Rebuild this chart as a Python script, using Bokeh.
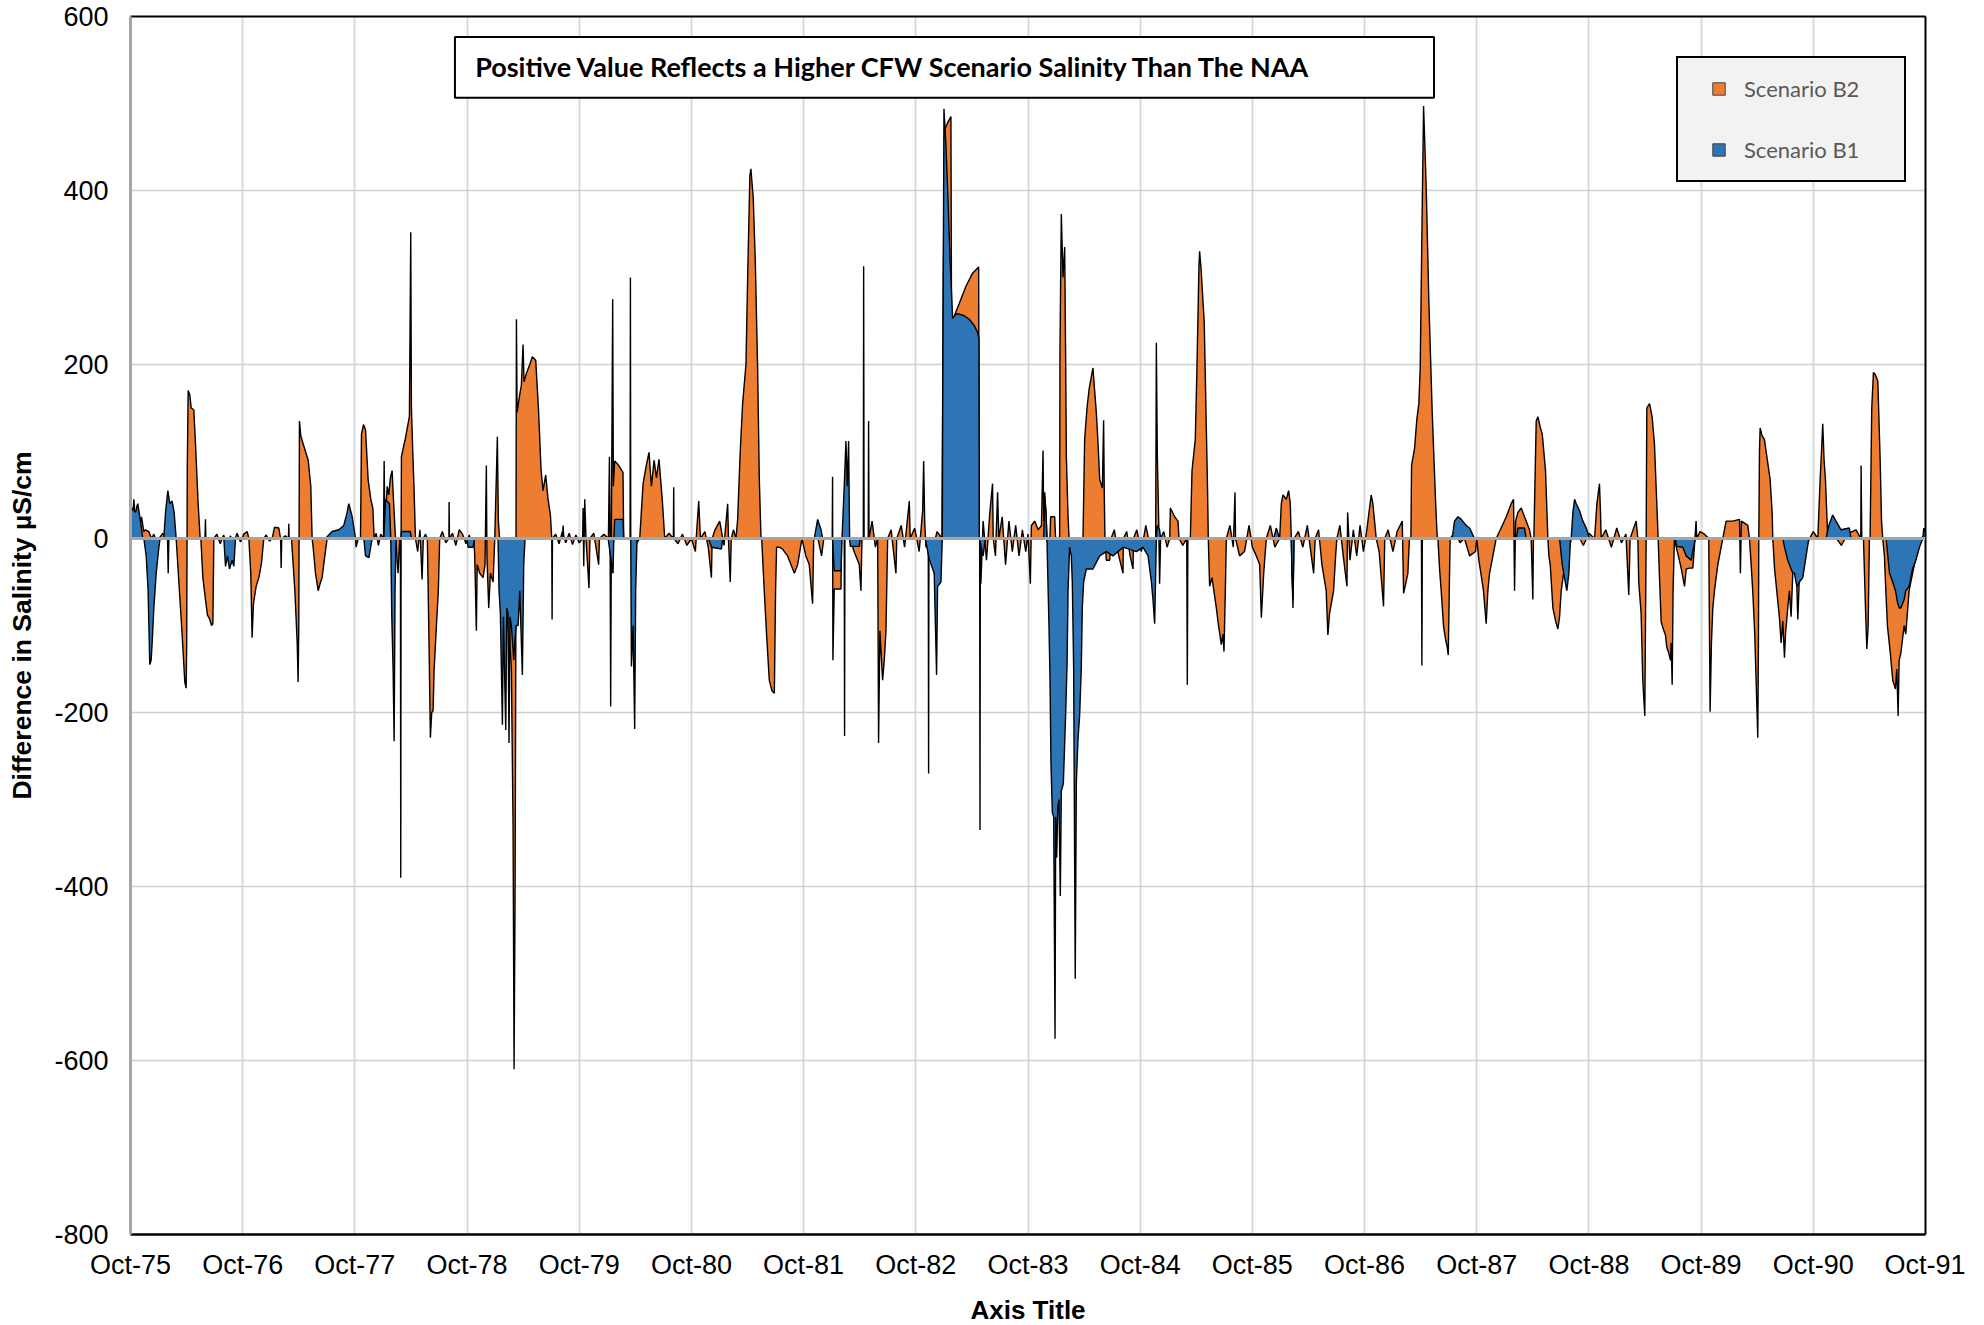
from bokeh.plotting import figure
from bokeh.models import (Range1d, FixedTicker, Span, BoxAnnotation, Label,
                          Legend, LegendItem, LinearAxis)
from bokeh.embed import file_html
from bokeh.resources import INLINE

# ---------------- data ----------------
X_TICKS = [1975.75 + i for i in range(17)]
X_TICK_LABELS = ["Oct-75", "Oct-76", "Oct-77", "Oct-78", "Oct-79", "Oct-80",
                 "Oct-81", "Oct-82", "Oct-83", "Oct-84", "Oct-85", "Oct-86",
                 "Oct-87", "Oct-88", "Oct-89", "Oct-90", "Oct-91"]
Y_TICKS = [-800, -600, -400, -200, 0, 200, 400, 600]
Y_TICK_LABELS = ["-800", "-600", "-400", "-200", "0", "200", "400", "600"]

SERIES_NAMES = ["Scenario B2", "Scenario B1"]

# (decimal year, difference in salinity uS/cm)
B2_POINTS = [
    (1975.750, 40), (1975.765, 15), (1975.780, 45), (1975.795, 20), (1975.809, 38),
    (1975.830, 12), (1975.848, 25), (1975.869, 8), (1975.884, 10), (1975.913, 8),
    (1975.937, 0), (1975.958, 5), (1975.985, -5), (1976.003, 0), (1976.040, 6),
    (1976.070, 0), (1976.080, 0), (1976.086, -40), (1976.092, 0), (1976.121, 10),
    (1976.140, 3), (1976.157, 0), (1976.181, -50), (1976.210, -110), (1976.234, -165),
    (1976.246, -172), (1976.251, -120), (1976.256, 80), (1976.264, 170), (1976.279, 165),
    (1976.291, 150), (1976.314, 148), (1976.329, 110), (1976.353, 40), (1976.371, 0),
    (1976.377, 0), (1976.395, -45), (1976.418, -70), (1976.436, -88), (1976.454, -92),
    (1976.472, -100), (1976.484, -98), (1976.493, 0), (1976.520, 5), (1976.550, -6),
    (1976.580, 4), (1976.610, -8), (1976.640, 3), (1976.670, -5), (1976.700, 6),
    (1976.730, -4), (1976.760, 5), (1976.790, 8), (1976.805, 0), (1976.822, -40),
    (1976.834, -114), (1976.846, -75), (1976.870, -55), (1976.894, -45), (1976.918, -28),
    (1976.938, 0), (1976.960, 4), (1976.990, -3), (1977.013, 0), (1977.034, 13),
    (1977.072, 12), (1977.088, 0), (1977.093, -34), (1977.098, 0), (1977.130, 3),
    (1977.158, 0), (1977.161, 17), (1977.164, 0), (1977.185, 0), (1977.215, -60),
    (1977.236, -120), (1977.244, -165), (1977.250, -100), (1977.256, 135), (1977.268, 118),
    (1977.286, 110), (1977.310, 100), (1977.334, 90), (1977.357, 60), (1977.369, 0),
    (1977.378, -10), (1977.399, -40), (1977.423, -60), (1977.444, -50), (1977.458, -45),
    (1977.482, -20), (1977.503, 0), (1977.547, 4), (1977.607, 5), (1977.680, 6),
    (1977.756, 0), (1977.761, -10), (1977.780, 0), (1977.800, 0), (1977.809, 120),
    (1977.827, 131), (1977.845, 125), (1977.868, 68), (1977.892, 45), (1977.910, 35),
    (1977.922, 0), (1977.940, 6), (1977.960, -8), (1977.980, 5), (1978.005, 0),
    (1978.011, 89), (1978.017, 10), (1978.038, 60), (1978.052, 50), (1978.067, 70),
    (1978.082, 78), (1978.094, 45), (1978.110, 5), (1978.135, -40), (1978.150, 0),
    (1978.156, 0), (1978.159, -390), (1978.162, 0), (1978.165, 94), (1978.200, 115),
    (1978.236, 140), (1978.248, 352), (1978.254, 150), (1978.266, 100), (1978.278, 55),
    (1978.290, 0), (1978.310, -15), (1978.330, 10), (1978.349, -47), (1978.360, 0),
    (1978.380, 5), (1978.396, 0), (1978.411, -120), (1978.423, -229), (1978.435, -200),
    (1978.447, -198), (1978.456, -152), (1978.477, -100), (1978.494, -60), (1978.506, 0),
    (1978.530, 8), (1978.560, -5), (1978.588, 0), (1978.590, 42), (1978.593, 0),
    (1978.620, 6), (1978.650, -8), (1978.680, 10), (1978.710, 5), (1978.740, -6),
    (1978.770, 4), (1978.790, -8), (1978.810, 0), (1978.818, -19), (1978.833, -106),
    (1978.840, -30), (1978.863, -40), (1978.893, -45), (1978.910, -30), (1978.922, 84),
    (1978.927, -20), (1978.943, -80), (1978.958, -40), (1978.982, -50), (1978.997, 0),
    (1979.020, 117), (1979.029, 20), (1979.040, 0), (1979.056, -60), (1979.077, -90),
    (1979.101, -50), (1979.124, -100), (1979.145, -150), (1979.160, -330), (1979.169, -610),
    (1979.178, -410), (1979.184, -150), (1979.190, 252), (1979.196, 145), (1979.219, 165),
    (1979.234, 176), (1979.249, 223), (1979.258, 180), (1979.279, 190), (1979.309, 200),
    (1979.332, 209), (1979.362, 205), (1979.386, 150), (1979.410, 78), (1979.427, 55),
    (1979.451, 73), (1979.472, 45), (1979.493, 27), (1979.505, 0), (1979.508, -93),
    (1979.511, 0), (1979.540, 5), (1979.570, -6), (1979.600, 8), (1979.630, -5),
    (1979.660, 6), (1979.690, -7), (1979.720, 4), (1979.750, -5), (1979.780, 0),
    (1979.784, 35), (1979.790, -32), (1979.799, 45), (1979.810, 0), (1979.837, -57),
    (1979.845, 0), (1979.880, 6), (1979.923, -30), (1979.930, 0), (1979.970, 5),
    (1980.010, 0), (1980.019, 94), (1980.025, 0), (1980.030, -193), (1980.036, 0),
    (1980.048, 275), (1980.054, 60), (1980.066, 89), (1980.096, 85), (1980.140, 76),
    (1980.146, 0), (1980.203, 0), (1980.206, 300), (1980.209, 0), (1980.250, -8),
    (1980.289, 0), (1980.319, 63), (1980.349, 85), (1980.372, 99), (1980.393, 60),
    (1980.417, 90), (1980.438, 70), (1980.461, 91), (1980.491, 43), (1980.512, 0),
    (1980.550, 6), (1980.589, 0), (1980.592, 59), (1980.595, 0), (1980.630, -6),
    (1980.670, 5), (1980.710, -8), (1980.750, 0), (1980.785, -15), (1980.800, 15),
    (1980.815, 43), (1980.830, 0), (1980.870, 8), (1980.900, -10), (1980.928, -45),
    (1980.935, 0), (1980.960, 10), (1981.002, 20), (1981.040, -8), (1981.073, 40),
    (1981.080, 0), (1981.096, -50), (1981.105, 0), (1981.125, 10), (1981.147, 0),
    (1981.162, 22), (1981.183, 94), (1981.206, 155), (1981.236, 200), (1981.251, 300),
    (1981.271, 417), (1981.280, 425), (1981.301, 391), (1981.319, 320), (1981.340, 196),
    (1981.355, 68), (1981.370, 0), (1981.376, 0), (1981.399, -60), (1981.420, -111),
    (1981.444, -163), (1981.468, -175), (1981.489, -178), (1981.500, -60), (1981.509, -10),
    (1981.533, -10), (1981.560, -12), (1981.607, -20), (1981.637, -30), (1981.667, -40),
    (1981.697, -30), (1981.735, 0), (1981.770, -20), (1981.800, -30), (1981.830, -75),
    (1981.840, 0), (1981.870, 5), (1981.910, -20), (1981.930, 0), (1982.005, 0),
    (1982.008, 71), (1982.011, -140), (1982.023, -58), (1982.083, -58), (1982.088, 0),
    (1982.112, 0), (1982.115, -227), (1982.118, 0), (1982.163, 0), (1982.200, -15),
    (1982.246, -30), (1982.261, -60), (1982.270, 0), (1982.282, 0), (1982.285, 313),
    (1982.289, 0), (1982.326, 0), (1982.329, 135), (1982.333, 0), (1982.360, 20),
    (1982.390, -10), (1982.410, 0), (1982.418, -235), (1982.430, -106), (1982.454, -163),
    (1982.469, -140), (1982.484, -106), (1982.499, 0), (1982.530, 10), (1982.573, -40),
    (1982.580, 0), (1982.620, 15), (1982.650, -10), (1982.692, 43), (1982.700, 0),
    (1982.740, 12), (1982.780, -15), (1982.811, 32), (1982.820, 89), (1982.829, 20),
    (1982.840, -10), (1982.861, 0), (1982.864, -270), (1982.867, 0), (1982.900, -12),
    (1982.940, 8), (1982.983, 0), (1982.995, 300), (1983.007, 470), (1983.034, 478),
    (1983.063, 485), (1983.069, 225), (1983.084, 253), (1983.137, 270), (1983.197, 290),
    (1983.256, 305), (1983.310, 312), (1983.316, 0), (1983.319, 0), (1983.322, -335),
    (1983.325, 0), (1983.330, -52), (1983.350, 20), (1983.380, -25), (1983.410, 30),
    (1983.434, 63), (1983.440, 0), (1983.460, -20), (1983.479, 53), (1983.490, 0),
    (1983.520, 25), (1983.550, -30), (1983.580, 20), (1983.610, -15), (1983.640, 15),
    (1983.670, -20), (1983.700, 10), (1983.730, -15), (1983.750, 5), (1983.771, -52),
    (1983.780, 15), (1983.810, 20), (1983.840, 10), (1983.870, 15), (1983.884, 101),
    (1983.890, 20), (1983.899, 53), (1983.910, 30), (1983.919, 0), (1983.940, -20),
    (1983.952, 25), (1983.988, 25), (1983.996, 0), (1984.010, -20), (1984.032, 0),
    (1984.035, 217), (1984.047, 373), (1984.062, 300), (1984.077, 335), (1984.086, 200),
    (1984.092, 94), (1984.107, 25), (1984.116, 0), (1984.140, -20), (1984.200, -15),
    (1984.240, 0), (1984.255, 114), (1984.276, 150), (1984.294, 171), (1984.329, 196),
    (1984.344, 170), (1984.359, 145), (1984.374, 110), (1984.389, 68), (1984.413, 58),
    (1984.424, 136), (1984.430, 50), (1984.436, 0), (1984.448, -25), (1984.478, -25),
    (1984.490, 0), (1984.520, 10), (1984.550, -15), (1984.597, -40), (1984.600, 0),
    (1984.630, 8), (1984.660, -20), (1984.686, -35), (1984.690, 0), (1984.720, 10),
    (1984.760, -15), (1984.800, 15), (1984.840, -10), (1984.888, 0), (1984.894, 225),
    (1984.903, 94), (1984.915, 20), (1984.923, -52), (1984.932, 0), (1984.960, 8),
    (1984.990, -10), (1985.013, 0), (1985.019, 35), (1985.057, 25), (1985.087, 20),
    (1985.096, 0), (1985.130, -8), (1985.165, 0), (1985.170, -168), (1985.175, 0),
    (1985.197, 0), (1985.212, 78), (1985.241, 114), (1985.256, 196), (1985.274, 314),
    (1985.280, 330), (1985.286, 320), (1985.292, 312), (1985.321, 248), (1985.351, 53),
    (1985.357, 0), (1985.369, -55), (1985.390, -45), (1985.429, -80), (1985.444, -96),
    (1985.473, -122), (1985.488, -110), (1985.497, -130), (1985.509, -60), (1985.518, 0),
    (1985.550, 15), (1985.580, -10), (1985.595, 53), (1985.600, 0), (1985.636, -20),
    (1985.680, -15), (1985.720, 15), (1985.750, -10), (1985.785, -20), (1985.815, -30),
    (1985.830, -91), (1985.851, -40), (1985.874, 0), (1985.910, 15), (1985.950, -10),
    (1985.993, 0), (1986.008, 40), (1986.023, 50), (1986.052, 45), (1986.073, 55),
    (1986.088, 40), (1986.097, 0), (1986.103, -40), (1986.112, -80), (1986.121, 0),
    (1986.160, 8), (1986.200, -10), (1986.240, 15), (1986.296, -40), (1986.310, 0),
    (1986.340, 10), (1986.370, -30), (1986.408, -60), (1986.423, -111), (1986.438, -86),
    (1986.474, -60), (1986.492, -20), (1986.503, 0), (1986.530, 15), (1986.560, -20),
    (1986.593, -55), (1986.599, 30), (1986.620, -25), (1986.650, 10), (1986.680, -20),
    (1986.710, 15), (1986.740, -15), (1986.770, 10), (1986.809, 50), (1986.824, 40),
    (1986.839, 20), (1986.854, 0), (1986.880, -15), (1986.919, -78), (1986.930, 0),
    (1986.960, 10), (1987.003, -15), (1987.040, 8), (1987.086, 20), (1987.098, -63),
    (1987.136, -40), (1987.150, 0), (1987.163, 0), (1987.169, 84), (1987.196, 104),
    (1987.216, 137), (1987.234, 155), (1987.246, 196), (1987.261, 350), (1987.276, 497),
    (1987.288, 450), (1987.300, 401), (1987.323, 273), (1987.353, 145), (1987.383, 43),
    (1987.398, 0), (1987.404, 0), (1987.418, -34), (1987.433, -60), (1987.454, -101),
    (1987.472, -116), (1987.487, -125), (1987.496, -134), (1987.505, -60), (1987.513, 0),
    (1987.560, 8), (1987.600, -5), (1987.641, 0), (1987.686, -20), (1987.739, -15),
    (1987.750, 0), (1987.769, -25), (1987.810, -60), (1987.834, -98), (1987.849, -60),
    (1987.864, -40), (1987.894, -20), (1987.923, 0), (1987.960, 10), (1988.013, 25),
    (1988.057, 40), (1988.078, 45), (1988.087, -60), (1988.096, 20), (1988.117, 30),
    (1988.146, 35), (1988.176, 25), (1988.220, 10), (1988.235, 0), (1988.250, -70),
    (1988.255, 0), (1988.259, 0), (1988.280, 135), (1988.295, 140), (1988.316, 128),
    (1988.334, 120), (1988.363, 78), (1988.384, 0), (1988.393, -20), (1988.405, -30),
    (1988.429, -80), (1988.453, -95), (1988.473, -104), (1988.488, -90), (1988.503, -60),
    (1988.524, -40), (1988.562, -20), (1988.592, 0), (1988.650, 5), (1988.700, -8),
    (1988.750, 6), (1988.800, 0), (1988.821, 40), (1988.844, 63), (1988.853, 30),
    (1988.859, 0), (1988.900, 10), (1988.950, -10), (1988.998, 12), (1989.040, -5),
    (1989.080, 5), (1989.105, -65), (1989.117, 0), (1989.171, 20), (1989.186, 0),
    (1989.194, -50), (1989.215, -86), (1989.230, -163), (1989.248, -204), (1989.254, -100),
    (1989.260, 0), (1989.266, 150), (1989.290, 155), (1989.313, 140), (1989.334, 109),
    (1989.355, 40), (1989.367, 0), (1989.379, -45), (1989.394, -96), (1989.415, -105),
    (1989.432, -111), (1989.444, -125), (1989.462, -132), (1989.477, -140), (1989.483, -120),
    (1989.492, -168), (1989.500, -60), (1989.512, 0), (1989.527, -9), (1989.572, -34),
    (1989.602, -55), (1989.617, -35), (1989.646, -34), (1989.676, -34), (1989.690, -10),
    (1989.705, 20), (1989.711, 0), (1989.740, 8), (1989.780, 5), (1989.818, 0),
    (1989.830, -199), (1989.842, -120), (1989.854, -80), (1989.869, -60), (1989.899, -30),
    (1989.943, 0), (1989.973, 20), (1990.032, 20), (1990.092, 22), (1990.100, -40),
    (1990.109, 20), (1990.166, 15), (1990.181, 0), (1990.196, -30), (1990.210, -60),
    (1990.228, -110), (1990.240, -163), (1990.255, -229), (1990.261, -120), (1990.264, 0),
    (1990.270, 100), (1990.276, 127), (1990.294, 118), (1990.314, 114), (1990.335, 95),
    (1990.365, 68), (1990.383, 30), (1990.389, 0), (1990.404, -34), (1990.424, -60),
    (1990.448, -91), (1990.463, -120), (1990.478, -95), (1990.493, -137), (1990.502, -110),
    (1990.522, -80), (1990.537, -60), (1990.552, -90), (1990.567, -40), (1990.597, -30),
    (1990.612, -93), (1990.627, -40), (1990.671, -20), (1990.701, -5), (1990.716, 0),
    (1990.750, 8), (1990.790, 0), (1990.811, 68), (1990.823, 100), (1990.834, 132),
    (1990.846, 90), (1990.858, 68), (1990.879, 0), (1990.930, 5), (1991.000, -8),
    (1991.060, 6), (1991.131, 10), (1991.173, 0), (1991.176, 84), (1991.182, 0),
    (1991.197, 0), (1991.215, -80), (1991.227, -127), (1991.239, -100), (1991.250, 0),
    (1991.256, 0), (1991.271, 150), (1991.286, 191), (1991.304, 188), (1991.325, 181),
    (1991.346, 90), (1991.358, 20), (1991.369, 0), (1991.384, -20), (1991.393, -50),
    (1991.411, -101), (1991.435, -130), (1991.458, -163), (1991.482, -173), (1991.494, -150),
    (1991.506, -204), (1991.515, -140), (1991.530, -132), (1991.560, -100), (1991.574, -110),
    (1991.604, -60), (1991.651, -30), (1991.711, 0), (1991.746, 5),
]

B1_POINTS = [
    (1975.750, 25), (1975.765, 35), (1975.795, 30), (1975.815, 40), (1975.839, 20),
    (1975.860, 0), (1975.869, 0), (1975.890, -20), (1975.907, -60), (1975.922, -145),
    (1975.934, -140), (1975.943, -120), (1975.958, -80), (1975.979, -40), (1976.003, -10),
    (1976.014, 0), (1976.047, 0), (1976.062, 30), (1976.083, 55), (1976.100, 40),
    (1976.121, 43), (1976.139, 30), (1976.157, 0), (1976.414, 0), (1976.418, 22),
    (1976.422, 0), (1976.582, 0), (1976.597, -32), (1976.615, -20), (1976.632, -35),
    (1976.656, -25), (1976.671, -32), (1976.686, 0), (1977.488, 0), (1977.547, 8),
    (1977.607, 10), (1977.651, 15), (1977.681, 30), (1977.696, 40), (1977.726, 25),
    (1977.756, 0), (1977.830, 0), (1977.845, -20), (1977.875, -22), (1977.904, 0),
    (1978.008, 0), (1978.023, 45), (1978.058, 40), (1978.070, 0), (1978.079, -90),
    (1978.091, -152), (1978.100, -233), (1978.108, -60), (1978.117, 0), (1978.160, 0),
    (1978.165, 8), (1978.245, 8), (1978.255, 0), (1978.750, 0), (1978.759, -10),
    (1978.803, -10), (1978.818, 0), (1979.026, 0), (1979.035, -60), (1979.047, -86),
    (1979.065, -214), (1979.074, -90), (1979.095, -220), (1979.104, -80), (1979.115, -86),
    (1979.124, -235), (1979.133, -90), (1979.145, -100), (1979.166, -140), (1979.175, -120),
    (1979.187, -100), (1979.205, -100), (1979.220, -60), (1979.243, -157), (1979.255, -30),
    (1979.267, 0), (1979.600, 0), (1979.606, 15), (1979.612, 0), (1980.007, 0),
    (1980.051, -40), (1980.058, 0), (1980.066, 22), (1980.140, 22), (1980.146, 0),
    (1980.209, 0), (1980.215, -147), (1980.230, -100), (1980.244, -219), (1980.253, -60),
    (1980.265, 0), (1980.900, 0), (1980.930, -10), (1981.017, -12), (1981.030, 0),
    (1981.845, 0), (1981.875, 22), (1981.905, 10), (1981.920, 0), (1982.008, 0),
    (1982.023, -37), (1982.083, -37), (1982.092, 0), (1982.112, 60), (1982.127, 112),
    (1982.139, 60), (1982.151, 112), (1982.160, 0), (1982.166, -9), (1982.246, -9),
    (1982.255, 0), (1982.834, 0), (1982.870, -24), (1982.914, -40), (1982.935, -157),
    (1982.944, -55), (1982.974, -50), (1982.986, 0), (1982.989, 125), (1983.001, 494),
    (1983.019, 450), (1983.037, 390), (1983.054, 325), (1983.078, 253), (1983.108, 258),
    (1983.137, 258), (1983.182, 256), (1983.226, 252), (1983.270, 245), (1983.300, 237),
    (1983.313, 230), (1983.316, 0), (1983.350, -20), (1983.370, 0), (1983.890, 0),
    (1983.899, 48), (1983.910, 30), (1983.919, 0), (1983.924, -30), (1983.937, -100),
    (1983.946, -160), (1983.955, -260), (1983.967, -315), (1983.979, -320), (1983.991, -575),
    (1983.997, -320), (1984.006, -367), (1984.015, -310), (1984.026, -300), (1984.038, -411),
    (1984.047, -290), (1984.065, -282), (1984.086, -200), (1984.098, -145), (1984.107, -60),
    (1984.121, -10), (1984.136, -20), (1984.145, -50), (1984.157, -150), (1984.171, -506),
    (1984.181, -280), (1984.196, -230), (1984.210, -204), (1984.225, -150), (1984.234, -80),
    (1984.246, -50), (1984.270, -35), (1984.329, -35), (1984.389, -20), (1984.448, -15),
    (1984.507, -20), (1984.597, -10), (1984.716, -15), (1984.775, -10), (1984.820, -20),
    (1984.850, -50), (1984.864, -70), (1984.879, -98), (1984.885, -60), (1984.894, 0),
    (1984.900, 15), (1984.923, 10), (1984.932, 0), (1985.940, 0), (1985.963, 12),
    (1985.993, 0), (1986.097, 0), (1986.103, -40), (1986.112, -70), (1986.121, 0),
    (1987.257, 0), (1987.261, -146), (1987.265, 0), (1987.531, 0), (1987.552, 20),
    (1987.582, 25), (1987.612, 22), (1987.656, 15), (1987.686, 12), (1987.730, 0),
    (1988.102, 0), (1988.117, 12), (1988.176, 12), (1988.191, 0), (1988.488, 0),
    (1988.512, -30), (1988.532, -45), (1988.553, -60), (1988.571, -40), (1988.586, 0),
    (1988.592, 0), (1988.607, 30), (1988.622, 45), (1988.637, 40), (1988.666, 32),
    (1988.696, 20), (1988.726, 12), (1988.755, 0), (1989.518, 0), (1989.533, -9),
    (1989.587, -10), (1989.617, -20), (1989.661, -25), (1989.690, -5), (1989.700, 0),
    (1990.478, 0), (1990.493, -10), (1990.522, -25), (1990.567, -40), (1990.582, -40),
    (1990.603, -55), (1990.626, -50), (1990.656, -45), (1990.686, -20), (1990.710, 0),
    (1990.864, 0), (1990.888, 15), (1990.923, 27), (1990.952, 20), (1990.997, 10),
    (1991.071, 12), (1991.086, 0), (1991.399, 0), (1991.429, -40), (1991.458, -50),
    (1991.482, -60), (1991.503, -75), (1991.518, -80), (1991.530, -80), (1991.560, -70),
    (1991.574, -60), (1991.604, -55), (1991.634, -35), (1991.664, -25), (1991.696, -10),
    (1991.726, 0), (1991.735, 12), (1991.746, 8),
]

ORANGE = "#ED7D31"
BLUE = "#2E75B6"

b2 = sorted(B2_POINTS)
b1 = sorted(B1_POINTS)
b2_x = [t for t, v in b2]
b2_y = [v for t, v in b2]
b1_x = [t for t, v in b1]
b1_y = [v for t, v in b1]

# ---------------- figure ----------------
p = figure(frame_width=1795, frame_height=1218,
           x_range=Range1d(X_TICKS[0], X_TICKS[-1]),
           y_range=Range1d(Y_TICKS[0], Y_TICKS[-1]),
           output_backend="svg", toolbar_location=None,
           min_border_left=130, min_border_right=40,
           min_border_top=16, min_border_bottom=80,
           background_fill_color="white", border_fill_color="white")
p.outline_line_color = None

# grids
p.xgrid.ticker = FixedTicker(ticks=X_TICKS)
p.ygrid.ticker = FixedTicker(ticks=Y_TICKS)
p.xgrid.grid_line_color = "#d9d9d9"
p.xgrid.grid_line_width = 2
p.ygrid.grid_line_color = "#d0d0d0"
p.ygrid.grid_line_width = 1.5

# x axis
xa = p.xaxis[0]
xa.ticker = FixedTicker(ticks=X_TICKS)
xa.major_label_overrides = {t: l for t, l in zip(X_TICKS, X_TICK_LABELS)}
xa.axis_line_color = "black"
xa.axis_line_width = 2.5
xa.major_tick_line_color = None
xa.minor_tick_line_color = None
xa.major_tick_out = 0
xa.major_tick_in = 0
xa.major_label_text_font = "Liberation Sans"
xa.major_label_text_font_size = "27px"
xa.major_label_text_color = "black"
xa.major_label_standoff = 15
xa.axis_label = "Axis Title"
xa.axis_label_text_font = "Liberation Sans"
xa.axis_label_text_font_style = "bold"
xa.axis_label_text_font_size = "26px"
xa.axis_label_text_color = "black"
xa.axis_label_standoff = 12

# y axis
ya = p.yaxis[0]
ya.ticker = FixedTicker(ticks=Y_TICKS)
ya.major_label_overrides = {t: l for t, l in zip(Y_TICKS, Y_TICK_LABELS)}
ya.axis_line_color = "#a6a6a6"
ya.axis_line_width = 3
ya.major_tick_line_color = None
ya.minor_tick_line_color = None
ya.major_tick_out = 0
ya.major_tick_in = 0
ya.major_label_text_font = "Liberation Sans"
ya.major_label_text_font_size = "27px"
ya.major_label_text_color = "black"
ya.major_label_standoff = 22
ya.axis_label = "Difference in Salinity \u00b5S/cm"
ya.axis_label_text_font = "Liberation Sans"
ya.axis_label_text_font_style = "bold"
ya.axis_label_text_font_size = "26.5px"
ya.axis_label_text_color = "black"
ya.axis_label_standoff = 14

# top and right border lines
for side in ("above", "right"):
    ax = LinearAxis(ticker=FixedTicker(ticks=[]), axis_line_color="black",
                    axis_line_width=2, major_tick_line_color=None,
                    minor_tick_line_color=None, major_label_text_font_size="0px")
    p.add_layout(ax, side)

# areas
p.varea(x=b2_x, y1=0, y2=b2_y, fill_color=ORANGE, fill_alpha=1)
p.line(b2_x, b2_y, line_color="black", line_width=1.4)
p.varea(x=b1_x, y1=0, y2=b1_y, fill_color=BLUE, fill_alpha=1)
p.line(b1_x, b1_y, line_color="black", line_width=1.4)

# zero line (horizontal category axis)
p.add_layout(Span(location=0, dimension="width", line_color="#a6a6a6", line_width=3))

# title text box
p.add_layout(BoxAnnotation(left=1978.642, right=1987.369, bottom=506.6, top=576.3,
                           fill_color="white", fill_alpha=1,
                           line_color="black", line_width=2, line_alpha=1))
p.add_layout(Label(x=1978.822, y=543.0,
                   text="Positive Value Reflects a Higher CFW Scenario Salinity Than The NAA",
                   text_font="Lato", text_font_style="bold", text_font_size="27px",
                   text_baseline="middle", text_align="left", text_color="black"))

# legend swatches: zero-size markers on the first point of each series
sw_b2 = p.scatter(x=b2_x[:1], y=b2_y[:1], marker="square", size=0, fill_color=ORANGE,
                  line_color="#404040", line_width=1)
sw_b1 = p.scatter(x=b1_x[:1], y=b1_y[:1], marker="square", size=0, fill_color=BLUE,
                  line_color="#404040", line_width=1)
legend = Legend(items=[LegendItem(label=SERIES_NAMES[0], renderers=[sw_b2]),
                       LegendItem(label=SERIES_NAMES[1], renderers=[sw_b1])],
                location=(1546, 1052), margin=0, padding=15, spacing=30,
                glyph_width=51, glyph_height=31, label_height=31,
                label_standoff=0, label_width=145,
                label_text_font="Lato", label_text_font_size="22px",
                label_text_color="#595959", label_text_baseline="middle",
                background_fill_color="#f2f2f2", background_fill_alpha=1,
                border_line_color="black", border_line_width=2, border_line_alpha=1)
p.add_layout(legend)

open("out.html", "w").write(file_html(p, INLINE))
